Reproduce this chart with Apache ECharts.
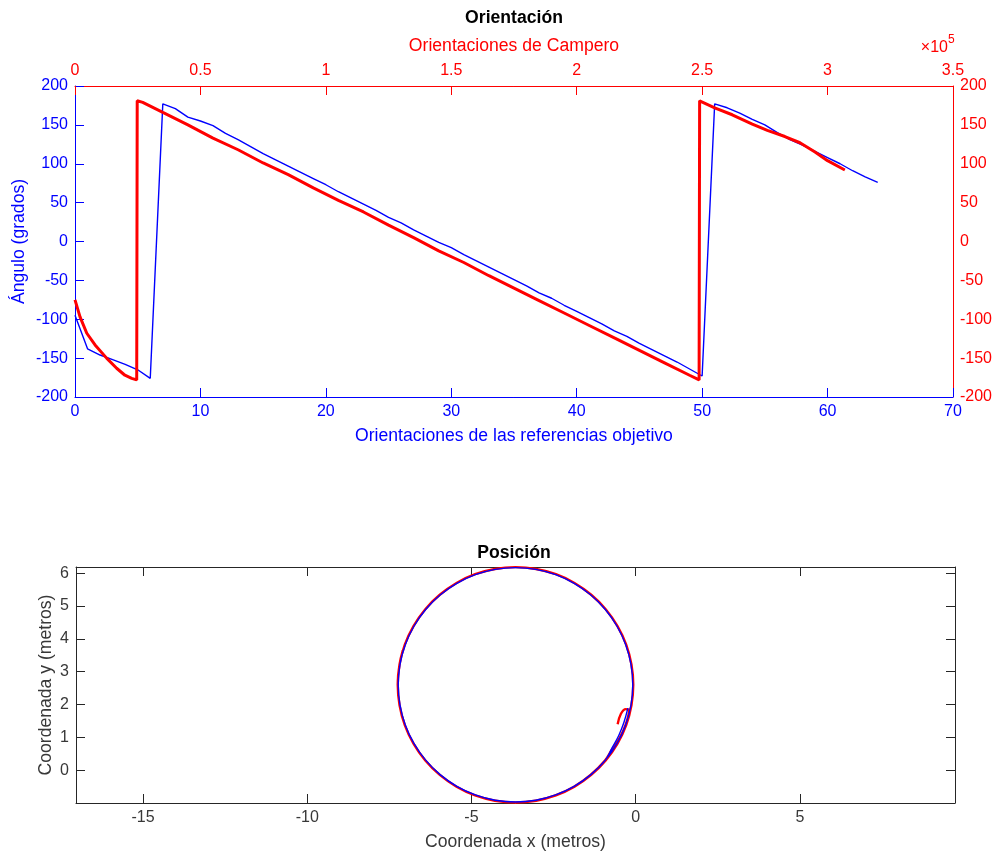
<!DOCTYPE html>
<html>
<head>
<meta charset="utf-8">
<script src="https://cdn.jsdelivr.net/npm/echarts@6/dist/echarts.min.js"></script>
<style>html,body{margin:0;padding:0;background:#fff}#c{width:995px;height:854px}</style>
</head>
<body>
<div id="c"></div>
<script>
// ---------- Orientation: reference targets (bottom/left axes) ----------
const refIdx = [0,1,2,3,4,5,6,7,8,9,10,11,12,13,14,15,16,17,18,19,20,21,22,23,24,25,26,27,28,29,30,31,32,33,34,35,36,37,38,39,40,41,42,43,44,45,46,47,48,49,50,51,52,53,54,55,56,57,58,59,60,61,62,63,64];
const refAngle = [-95,-138,-146,-152,-158,-165,-176,177,171,160,155,149,139,131,122,113,105,97,89,81,73,64,56,48,40,31,24,15,7,-1,-8,-17,-25,-33,-41,-49,-57,-66,-73,-82,-90,-98,-106,-115,-122,-131,-139,-147,-155,-164,-173,177,172,165,157,150,140,131,124,116,108,100,91,83,76];
// ---------- Orientation: Campero (top/right axes) ----------
const campIdx = [0,2000,4700,8000,12600,16600,19900,22600,24600,24800,27000,35000,45000,55000,65000,75000,85000,95000,105000,115000,125000,135000,145000,155000,165000,175000,185000,195000,205000,215000,225000,235000,245000,248800,249000,255000,262000,270000,276000,283000,289000,295000,300000,306900];
const campAngle = [-75,-97,-118,-133,-150,-163,-172,-176,-178,181,179,166,150,133,118,101,86,69,53,38,21,5,-12,-27,-44,-60,-76,-92,-108,-124,-140,-156,-172,-178,181,172,163,151,143,135,127,115,104,92];
const topTicks = ['0','0.5','1','1.5','2','2.5','3','3.5'];
// ---------- Position: reference targets ----------
const posRefX = [-0.24,-0.36,-0.52,-0.72,-0.925,-1.365,-1.875,-2.439,-3.04,-3.66,-4.28,-4.881,-5.445,-5.955,-6.395,-6.752,-7.015,-7.176,-7.23,-7.176,-7.015,-6.752,-6.395,-5.955,-5.445,-4.881,-4.28,-3.66,-3.04,-2.439,-1.875,-1.365,-0.925,-0.568,-0.305,-0.144,-0.09,-0.144,-0.305,-0.568,-0.925,-1.365,-1.875,-2.439,-3.04,-3.66,-4.28,-4.881,-5.445,-5.955,-6.395,-6.752,-7.015,-7.176,-7.23,-7.176,-7.074];
const posRefY = [1.89,1.45,1.05,0.68,0.305,-0.135,-0.492,-0.755,-0.916,-0.97,-0.916,-0.755,-0.492,-0.135,0.305,0.815,1.379,1.98,2.60,3.22,3.821,4.385,4.895,5.335,5.692,5.955,6.116,6.17,6.116,5.955,5.692,5.335,4.895,4.385,3.821,3.22,2.60,1.98,1.379,0.815,0.305,-0.135,-0.492,-0.755,-0.916,-0.97,-0.916,-0.755,-0.492,-0.135,0.305,0.815,1.379,1.98,2.60,3.22,3.644];
// ---------- Position: Campero ----------
const posCampX = [-0.55,-0.45,-0.30,-0.20,-0.30,-0.48,-0.74,-0.935,-1.375,-1.88,-2.445,-3.04,-3.66,-4.285,-4.89,-5.455,-5.965,-6.405,-6.765,-7.03,-7.19,-7.245,-7.19,-7.03,-6.765,-6.405,-5.965,-5.455,-4.89,-4.285,-3.66,-3.035,-2.43,-1.865,-1.355,-0.915,-0.555,-0.29,-0.13,-0.075,-0.13,-0.29,-0.555,-0.915,-1.355,-1.865,-2.43,-3.035,-3.66,-4.285,-4.89,-5.455,-5.965,-6.405,-6.765,-7.03,-7.19,-7.245,-7.19,-7.09];
const posCampY = [1.40,1.72,1.86,1.84,1.40,1.00,0.60,0.295,-0.145,-0.505,-0.77,-0.93,-0.985,-0.93,-0.77,-0.505,-0.145,0.295,0.81,1.375,1.98,2.60,3.22,3.825,4.39,4.905,5.345,5.705,5.97,6.13,6.185,6.13,5.97,5.705,5.345,4.905,4.39,3.825,3.22,2.60,1.98,1.375,0.81,0.295,-0.145,-0.505,-0.77,-0.93,-0.985,-0.93,-0.77,-0.505,-0.145,0.295,0.81,1.375,1.98,2.60,3.22,3.65];
const posXTicks = [-15,-10,-5,0,5];
const posYTicks = [0,1,2,3,4,5,6];

const BLUE = '#0000ff', RED = '#ff0000', GRAY = '#262626', TXT = '#383838';
const FONT = 'Liberation Sans';
const zip = (a, b) => a.map((v, i) => [v, b[i]]);

const chart = echarts.init(document.getElementById('c'), null, {renderer: 'canvas'});

function valAxis(o) {
  return Object.assign({
    type: 'value', splitLine: {show: false},
    axisLine: {show: true, onZero: false, lineStyle: {color: o.color, width: 1}},
    axisTick: {show: true, inside: true, length: 9, lineStyle: {color: o.color, width: 1}},
    axisLabel: {show: true, color: o.color, fontSize: 16, fontFamily: FONT, margin: 7},
    nameTextStyle: {color: o.color, fontSize: 17.6, fontFamily: FONT},
    nameLocation: 'middle',
    nameMoveOverlap: false
  }, o.extra);
}

const option = {
  animation: false,
  backgroundColor: '#ffffff',
  grid: [
    {left: 75, top: 86, width: 878, height: 311},
    {left: 76, top: 567, width: 879, height: 236}
  ],
  xAxis: [
    valAxis({color: BLUE, extra: {gridIndex: 0, position: 'bottom', min: 0, max: 70, interval: 10,
      name: 'Orientaciones de las referencias objetivo', nameGap: 30}}),
    valAxis({color: RED, extra: {gridIndex: 0, position: 'top', min: 0, max: 350000, interval: 50000,
      name: 'Orientaciones de Campero', nameGap: 31}}),
    valAxis({color: GRAY, extra: {gridIndex: 1, position: 'bottom', min: -17.04, max: 9.72,
      name: 'Coordenada x (metros)', nameGap: 30}}),
    valAxis({color: GRAY, extra: {gridIndex: 1, position: 'top', min: -17.04, max: 9.72}})
  ],
  yAxis: [
    valAxis({color: BLUE, extra: {gridIndex: 0, position: 'left', min: -200, max: 200, interval: 50,
      name: 'Ángulo (grados)', nameGap: 47}}),
    valAxis({color: RED, extra: {gridIndex: 0, position: 'right', min: -200, max: 200, interval: 50}}),
    valAxis({color: GRAY, extra: {gridIndex: 1, position: 'left', min: -1.0, max: 6.19,
      name: 'Coordenada y (metros)', nameGap: 21}}),
    valAxis({color: GRAY, extra: {gridIndex: 1, position: 'right', min: -1.0, max: 6.19}})
  ],
  graphic: [
    {type: 'text', x: 514, y: 18, style: {text: 'Orientación', fontSize: 17.6, fontWeight: 'bold', fontFamily: FONT, fill: '#000', align: 'center', verticalAlign: 'middle'}},
    {type: 'text', x: 514, y: 553, style: {text: 'Posición', fontSize: 17.6, fontWeight: 'bold', fontFamily: FONT, fill: '#000', align: 'center', verticalAlign: 'middle'}},
    {type: 'text', x: 948, y: 48, style: {text: '×10', fontSize: 16, fontFamily: FONT, fill: RED, align: 'right', verticalAlign: 'middle'}},
    {type: 'text', x: 948, y: 40, style: {text: '5', fontSize: 12, fontFamily: FONT, fill: RED, align: 'left', verticalAlign: 'middle'}}
  ],
  series: [
    {type: 'line', xAxisIndex: 0, yAxisIndex: 0, data: zip(refIdx, refAngle), showSymbol: false,
      lineStyle: {color: BLUE, width: 1.4}, itemStyle: {color: BLUE}, z: 2},
    {type: 'line', xAxisIndex: 1, yAxisIndex: 1, data: zip(campIdx, campAngle), showSymbol: false,
      lineStyle: {color: RED, width: 3}, itemStyle: {color: RED}, z: 3},
    {type: 'line', xAxisIndex: 2, yAxisIndex: 2, data: zip(posCampX, posCampY), showSymbol: false, smooth: 0.4,
      lineStyle: {color: RED, width: 2.4}, itemStyle: {color: RED}, z: 2},
    {type: 'line', xAxisIndex: 2, yAxisIndex: 2, data: zip(posRefX, posRefY), showSymbol: false, smooth: 0.4,
      lineStyle: {color: BLUE, width: 1.4}, itemStyle: {color: BLUE}, z: 3}
  ]
};

// top axis labels in units of 1e5
option.xAxis[1].axisLabel.formatter = v => topTicks[Math.round(v / 50000)];
// right axis of the orientation plot has no tick marks
option.yAxis[1].axisTick.show = false;
// position axes: fixed tick values
option.xAxis[2].axisLabel.customValues = posXTicks;
option.xAxis[2].axisTick.customValues = posXTicks;
option.xAxis[3].axisLabel.show = false;
option.xAxis[3].axisTick.customValues = posXTicks;
option.yAxis[2].axisLabel.customValues = posYTicks;
option.yAxis[2].axisTick.customValues = posYTicks;
option.yAxis[3].axisLabel.show = false;
option.yAxis[3].axisTick.customValues = posYTicks;
option.xAxis[2].axisLabel.color = TXT;
option.yAxis[2].axisLabel.color = TXT;
option.xAxis[2].nameTextStyle.color = TXT;
option.yAxis[2].nameTextStyle.color = TXT;

chart.setOption(option);
</script>
</body>
</html>
